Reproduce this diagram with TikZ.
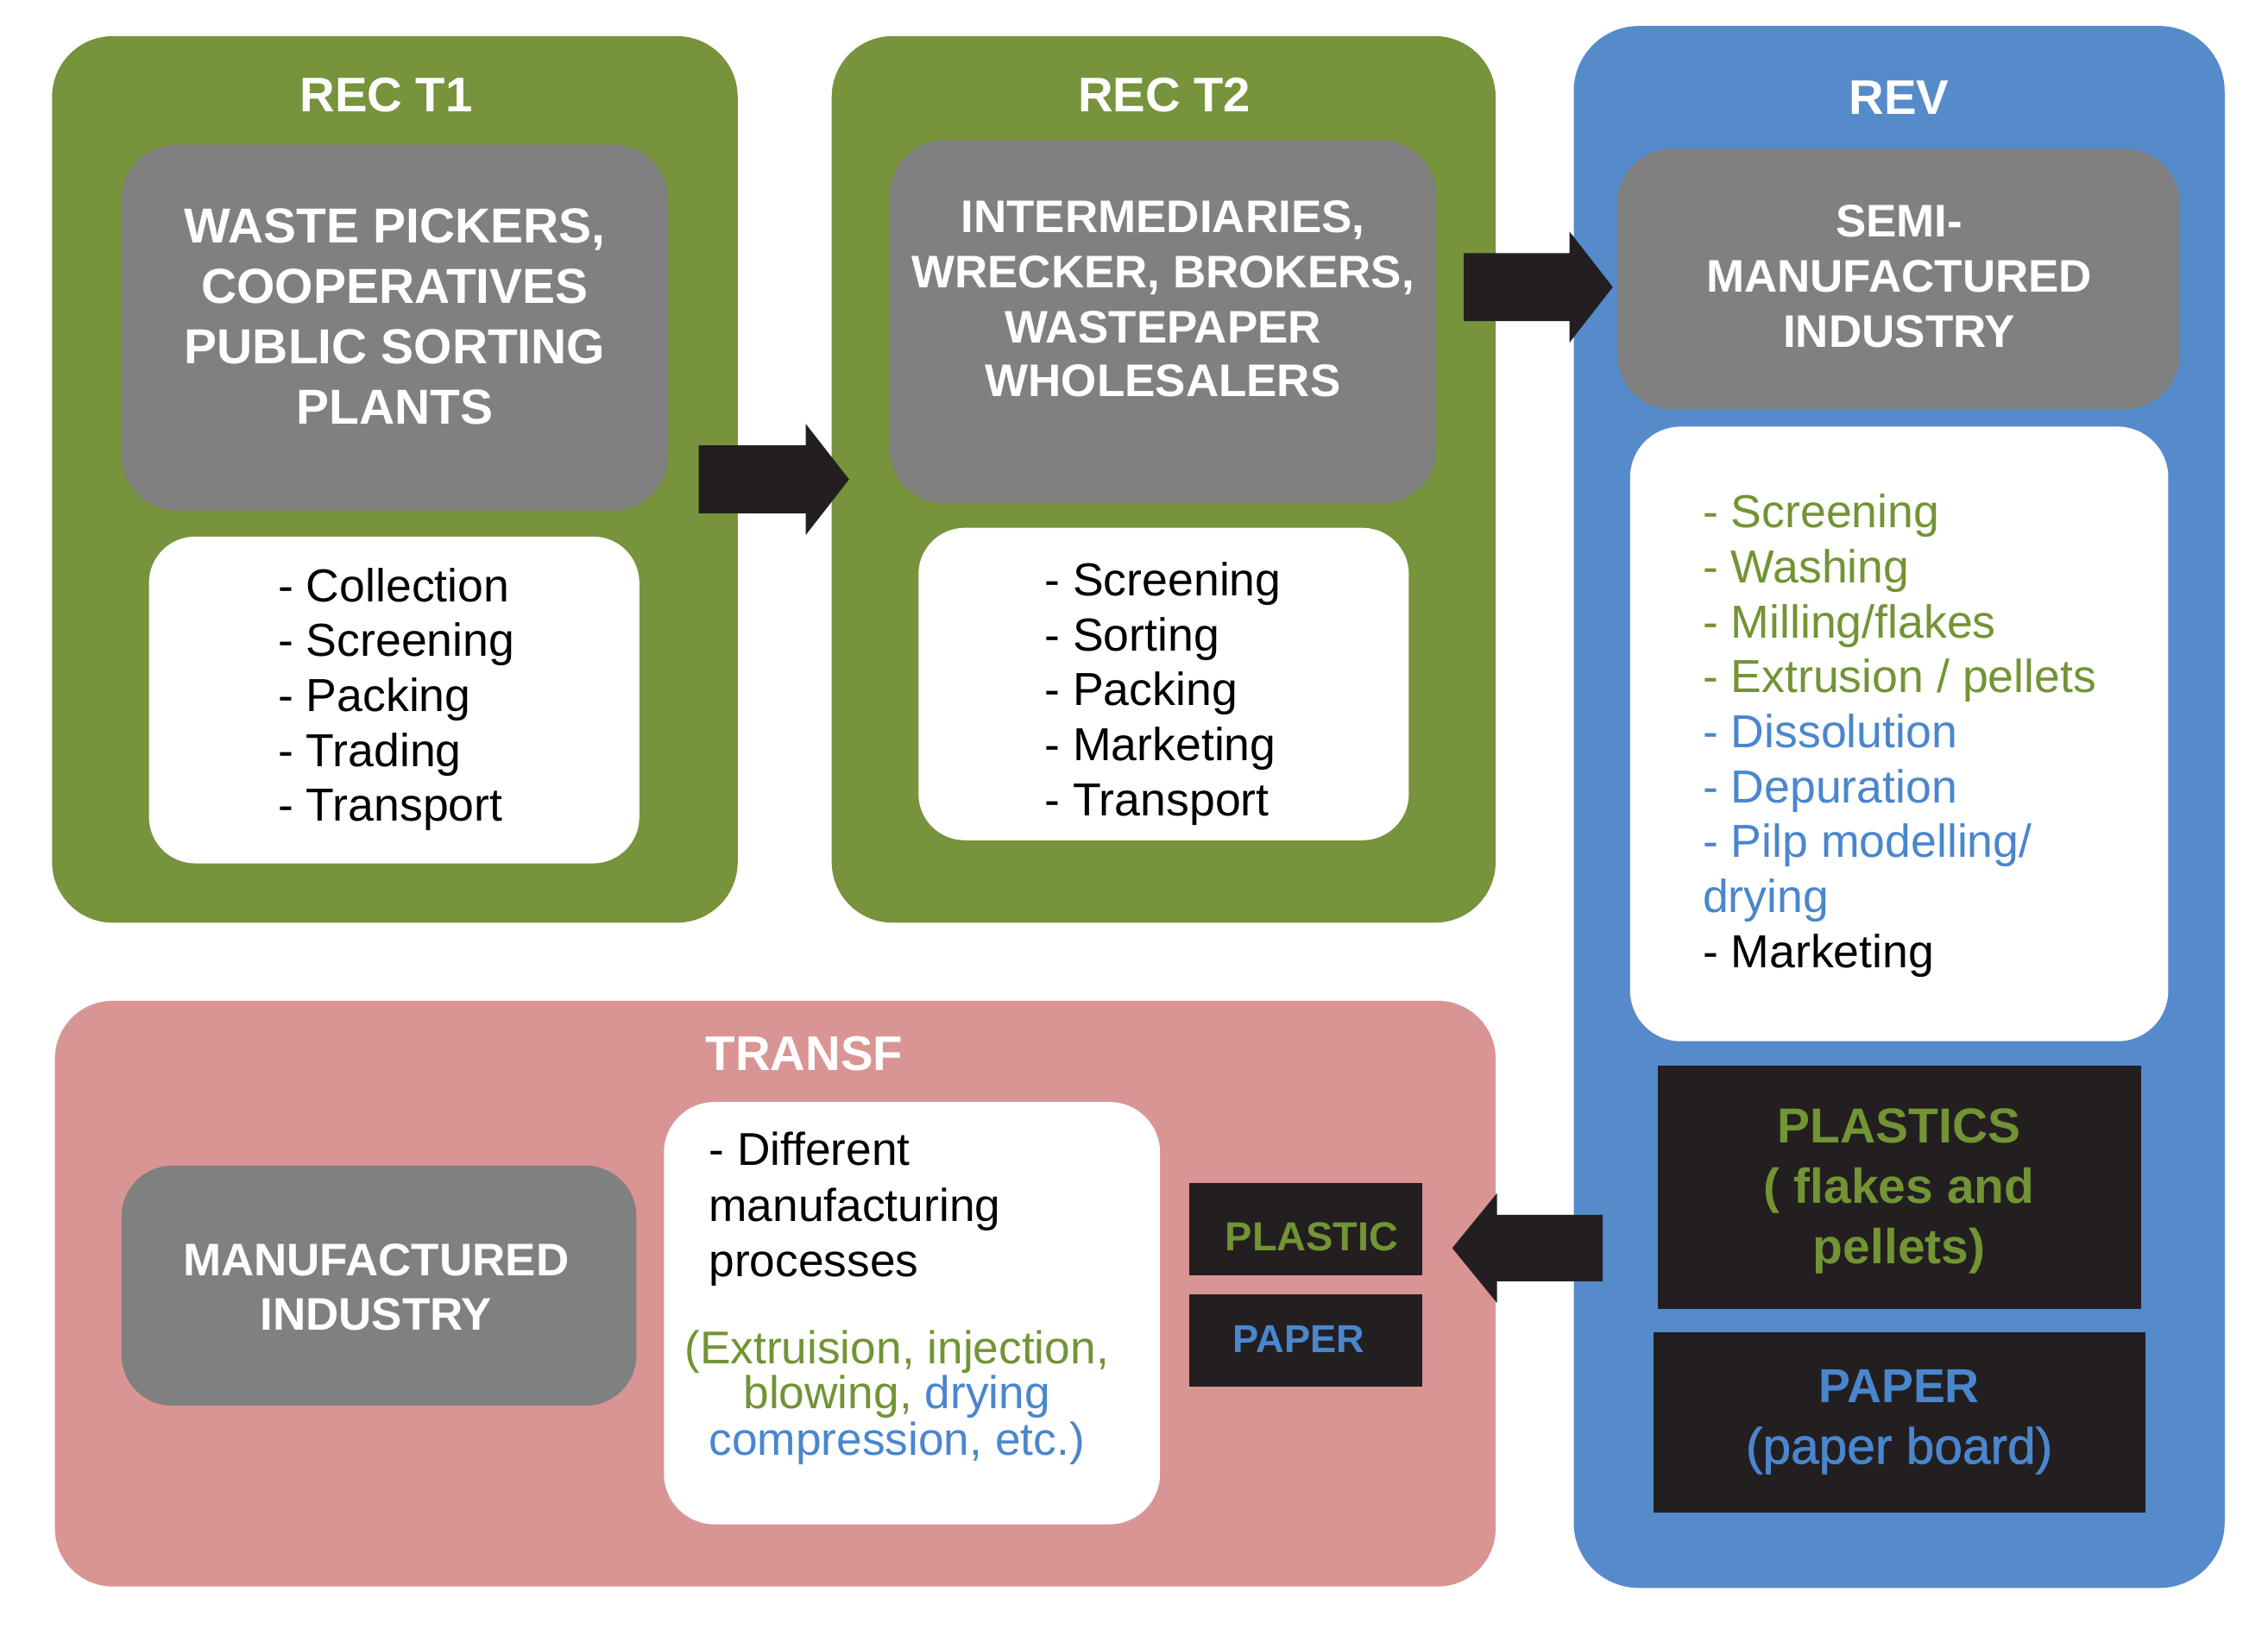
\documentclass[tikz,border=0pt]{standalone}
\usepackage{fontspec}
\setmainfont{Liberation Sans}
\newfontfamily\semibfont[FakeBold=1.2]{Liberation Sans}
\definecolor{recgreen}{RGB}{119,147,59}
\definecolor{revblue}{RGB}{86,139,203}
\definecolor{transfpink}{RGB}{217,149,148}
\definecolor{boxgray}{RGB}{128,128,128}
\definecolor{boxblack}{RGB}{35,31,32}
\definecolor{tgreen}{RGB}{114,148,52}
\definecolor{tblue}{RGB}{74,134,205}
\begin{document}
\begin{tikzpicture}[x=1pt,y=-1pt,
  panel/.style={draw=none, inner sep=0pt, rounded corners=42pt},
  greenpanel/.style={panel, fill=recgreen},
  graybox/.style={draw=none, inner sep=0pt, fill=boxgray, rounded corners=38pt},
  whitebox/.style={draw=none, inner sep=0pt, fill=white, rounded corners=33pt},
  blackbox/.style={draw=none, inner sep=0pt, fill=boxblack},
  ttl/.style={font=\fontsize{33.6}{40}\selectfont\bfseries, text=white, anchor=base, inner sep=0pt},
  gtxt/.style={font=\fontsize{31.6}{38}\selectfont\bfseries, text=white, anchor=base, inner sep=0pt},
  gtxtb/.style={font=\fontsize{34}{41}\selectfont\bfseries, text=white, anchor=base, inner sep=0pt},
  ltxt/.style={font=\fontsize{32}{38}\selectfont, text=black, anchor=base west, inner sep=0pt},
  ctxt/.style={font=\fontsize{31.8}{32}\selectfont, anchor=base, inner sep=0pt},
  blockarrow/.style={fill=boxblack, draw=none}
]
\useasboundingbox[fill=white] (0,0) rectangle (1568,1131);

% ---------- panels ----------
\node[greenpanel, minimum width=474pt, minimum height=613pt] (rect1) at (273,331.5) {};
\node[greenpanel, minimum width=459pt, minimum height=613pt] (rect2) at (804.5,331.5) {};
\node[panel, fill=revblue, rounded corners=45pt, minimum width=450pt, minimum height=1080pt] (rev) at (1313,558) {};
\node[panel, fill=transfpink, rounded corners=40pt, minimum width=996pt, minimum height=405pt] (transf) at (536,894.5) {};

% ---------- titles ----------
\node[ttl] (t1) at (267,77) {REC T1};
\node[ttl] (t2) at (805,77) {REC T2};
\node[ttl] (t3) at (1313,79) {REV};
\node[ttl] (t4) at (556,740) {TRANSF};

% ---------- REC T1 ----------
\node[graybox, minimum width=378pt, minimum height=253pt] (g1) at (273,226.5) {};
\node[gtxtb] (g1a) at (273,168) {WASTE PICKERS,};
\node[gtxtb] (g1b) at (273,209.7) {COOPERATIVES};
\node[gtxtb] (g1c) at (273,251.3) {PUBLIC SORTING};
\node[gtxtb] (g1d) at (273,293) {PLANTS};
\node[whitebox, rounded corners=32pt, minimum width=339pt, minimum height=226pt] (w1) at (272.5,484) {};
\foreach \t [count=\i from 0] in {Collection,Screening,Packing,Trading,Transport}
  \node[ltxt] (l1\i) at (192,{416+38*\i}) {- \t};

% ---------- REC T2 ----------
\node[graybox, minimum width=378pt, minimum height=251pt] (g2) at (804,222.5) {};
\node[gtxt] (g2a) at (804,161) {INTERMEDIARIES,};
\node[gtxt] (g2b) at (804,199) {WRECKER, BROKERS,};
\node[gtxt] (g2c) at (804,237) {WASTEPAPER};
\node[gtxt] (g2d) at (804,274) {WHOLESALERS};
\node[whitebox, rounded corners=32pt, minimum width=339pt, minimum height=216pt] (w2) at (804.5,473) {};
\foreach \t [count=\i from 0] in {Screening,Sorting,Packing,Marketing,Transport}
  \node[ltxt] (l2\i) at (722,{412+38*\i}) {- \t};

% ---------- REV ----------
\node[graybox, minimum width=389pt, minimum height=180pt] (g3) at (1312.5,193) {};
\node[gtxt] (g3a) at (1313,164) {SEMI-};
\node[gtxt] (g3b) at (1313,202) {MANUFACTURED};
\node[gtxt] (g3c) at (1313,240) {INDUSTRY};
\node[whitebox, rounded corners=35pt, minimum width=372pt, minimum height=425pt] (w3) at (1313,507.5) {};
\foreach \c/\t [count=\i from 0] in {tgreen/{- Screening}, tgreen/{- Washing}, tgreen/{- Milling/flakes}, tgreen/{- Extrusion / pellets}, tblue/{- Dissolution}, tblue/{- Depuration}, tblue/{- Pilp modelling/}, tblue/{drying}, black/{- Marketing}}
  \node[ltxt, text=\c] (l3\i) at (1177,{365+38*\i}) {\t};

\node[blackbox, minimum width=334pt, minimum height=168pt] (bplast) at (1313,821) {};
\node[gtxtb, text=tgreen] (bp1) at (1313,790) {PLASTICS};
\node[gtxtb, text=tgreen] (bp2) at (1313,832) {( flakes and};
\node[gtxtb, text=tgreen] (bp3) at (1313,874) {pellets)};
\node[blackbox, minimum width=340pt, minimum height=125pt] (bpaper) at (1313,983.5) {};
\node[gtxtb, font=\fontsize{33}{40}\selectfont\bfseries, text=tblue] (bq1) at (1313,970) {PAPER};
\node[gtxtb, font=\fontsize{35}{40}\selectfont\semibfont, text=tblue] (bq2) at (1313,1012) {(paper board)};

% ---------- TRANSF ----------
\node[graybox, rounded corners=35pt, minimum width=356pt, minimum height=166pt] (g4) at (262,889) {};
\node[gtxt] (g4a) at (260,882) {MANUFACTURED};
\node[gtxt] (g4b) at (260,920) {INDUSTRY};
\node[whitebox, rounded corners=35pt, minimum width=343pt, minimum height=292pt] (w4) at (630.5,908) {};
\node[ltxt, font=\fontsize{31.8}{38}\selectfont] (w4a) at (490,806) {- Different};
\node[ltxt, font=\fontsize{31.8}{38}\selectfont] (w4b) at (490,844.5) {manufacturing};
\node[ltxt, font=\fontsize{31.8}{38}\selectfont] (w4c) at (490,883) {processes};
\node[ctxt, text=tgreen] (w4d) at (620,943) {(Extruision, injection,};
\node[ctxt] (w4e) at (620,974) {\textcolor{tgreen}{blowing,} \textcolor{tblue}{drying}};
\node[ctxt, text=tblue] (w4f) at (620,1006) {compression, etc.)};

\node[blackbox, minimum width=161pt, minimum height=64pt] (splast) at (902.5,850) {};
\node[gtxt, font=\fontsize{28}{34}\selectfont\bfseries, text=tgreen] (sp) at (907,865) {PLASTIC};
\node[blackbox, minimum width=161pt, minimum height=64pt] (spaper) at (902.5,927) {};
\node[gtxt, font=\fontsize{27}{34}\selectfont\bfseries, text=tblue] (sq) at (898,935) {PAPER};

% ---------- block arrows ----------
\fill[blockarrow] (483,308) -- (557,308) -- (557,293) -- (587,331.5) -- (557,370) -- (557,355) -- (483,355) -- cycle;
\fill[blockarrow] (1012,175) -- (1085,175) -- (1085,160) -- (1115,198.5) -- (1085,237) -- (1085,222) -- (1012,222) -- cycle;
\fill[blockarrow] (1108,840) -- (1035,840) -- (1035,825) -- (1004,863) -- (1035,901) -- (1035,886) -- (1108,886) -- cycle;
\end{tikzpicture}
\end{document}
